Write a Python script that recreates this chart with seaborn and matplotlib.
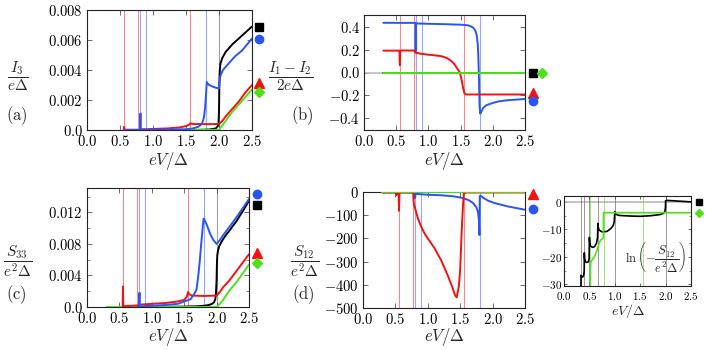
import matplotlib
matplotlib.use("Agg")
import matplotlib.pyplot as plt
import seaborn as sns
from matplotlib.ticker import MultipleLocator

# ---------------- data ----------------
x_ticks = [0.0, 0.5, 1.0, 1.5, 2.0, 2.5]
x_tick_labels = ["0.0", "0.5", "1.0", "1.5", "2.0", "2.5"]

# resonance voltages (thin vertical lines)
red_res = [0.556, 0.778, 1.556]
blue_res = [0.8, 0.9, 1.8]
black_res = [2.0]
inset_black_res = [0.333, 0.4, 0.5, 0.667, 1.0, 2.0]
inset_green_res = [0.519, 0.778, 1.556]

# (a) I3 / eDelta
a_yticks = [0.0, 0.002, 0.004, 0.006, 0.008]
a_ytick_labels = ["0.0", "0.002", "0.004", "0.006", "0.008"]
a_black_x = [0.56, 1.6, 1.85, 1.95, 1.99, 2.0, 2.005, 2.01, 2.02, 2.05, 2.1, 2.2, 2.3, 2.4, 2.5]
a_black_y = [0, 0, 0.00003, 0.0001, 0.0003, 0.0012, 0.003, 0.0038, 0.0044, 0.0048, 0.0052, 0.0057, 0.0061, 0.0065, 0.0069]
a_blue_x = [0.57, 0.8, 0.805, 0.81, 0.815, 0.82, 1.2, 1.5, 1.6, 1.68, 1.74, 1.77, 1.79, 1.805, 1.815, 1.82, 1.85,
            1.9, 1.95, 2.0, 2.005, 2.02, 2.06, 2.14, 2.24, 2.35, 2.5]
a_blue_y = [0, 0, 0.0004, 0.0011, 0.0002, 0.00002, 0.00003, 0.00005, 0.0001, 0.0002, 0.0004, 0.0008, 0.0015, 0.0025,
            0.0032, 0.00315, 0.003, 0.0029, 0.00282, 0.00278, 0.0031, 0.0036, 0.0040, 0.0044, 0.0049, 0.0053, 0.0061]
a_red_x = [0.556, 0.558, 0.565, 0.57, 0.78, 0.8, 1.0, 1.2, 1.4, 1.5, 1.55, 1.57, 1.6, 1.8, 2.0, 2.05, 2.1, 2.2,
           2.3, 2.4, 2.5]
a_red_y = [0, 0.0002, 0.0002, 0.00002, 0.00002, 0.00004, 0.00007, 0.0001, 0.00017, 0.00026, 0.00036, 0.00045,
           0.0004, 0.00039, 0.0004, 0.0006, 0.0009, 0.0014, 0.0019, 0.0025, 0.003]
a_green_x = [0.56, 2.0, 2.05, 2.1, 2.2, 2.3, 2.4, 2.5]
a_green_y = [0, 0, 0.0003, 0.0006, 0.0012, 0.0017, 0.0022, 0.0027]
a_marker_y = [0.0069, 0.0061, 0.00315, 0.00255]   # black, blue, red, green

# (b) (I1 - I2) / 2eDelta
b_yticks = [-0.4, -0.2, 0.0, 0.2, 0.4]
b_ytick_labels = ["-0.4", "-0.2", "0.0", "0.2", "0.4"]
b_black_x = [0.3, 2.5]
b_black_y = [0, 0]
b_blue_x = [0.3, 0.6, 0.8, 0.803, 0.806, 0.81, 1.0, 1.3, 1.5, 1.6, 1.66, 1.7, 1.73, 1.75, 1.765, 1.775, 1.785,
            1.795, 1.805, 1.82, 1.85, 1.9, 2.0, 2.1, 2.25, 2.5]
b_blue_y = [0.441, 0.44, 0.44, 0.19, 0.42, 0.435, 0.432, 0.428, 0.424, 0.42, 0.41, 0.395, 0.37, 0.33, 0.26, 0.15,
            -0.05, -0.3, -0.365, -0.35, -0.315, -0.29, -0.27, -0.255, -0.245, -0.235]
b_red_x = [0.3, 0.55, 0.556, 0.558, 0.562, 0.57, 0.77, 0.78, 0.8, 0.9, 1.0, 1.1, 1.2, 1.28, 1.33, 1.38, 1.42,
           1.46, 1.49, 1.515, 1.54, 1.56, 1.58, 2.0, 2.5]
b_red_y = [0.194, 0.194, 0.07, 0.065, 0.19, 0.195, 0.195, 0.195, 0.175, 0.165, 0.158, 0.152, 0.145, 0.13, 0.112,
           0.09, 0.06, 0.025, 0.0, -0.065, -0.14, -0.185, -0.195, -0.195, -0.195]
b_green_x = [0.3, 2.5]
b_green_y = [0, 0]
b_marker_y = [0.0, 0.0, -0.18, -0.255]   # black, green, red, blue

# (c) S33 / e^2 Delta
c_yticks = [0.0, 0.004, 0.008, 0.012]
c_ytick_labels = ["0.0", "0.004", "0.008", "0.012"]
c_black_x = [0.78, 1.0, 1.5, 1.7, 1.8, 1.88, 1.93, 1.96, 1.98, 1.99, 2.0, 2.005, 2.01, 2.02, 2.04, 2.07, 2.1,
             2.15, 2.2, 2.26, 2.3, 2.36, 2.43, 2.5]
c_black_y = [0, 0.00002, 0.00005, 0.0001, 0.00015, 0.00025, 0.0004, 0.0006, 0.001, 0.0017, 0.0035, 0.0055,
             0.0065, 0.0071, 0.0077, 0.0082, 0.0086, 0.0092, 0.0097, 0.0104, 0.0108, 0.0116, 0.0125, 0.0135]
c_blue_x = [0.78, 0.8, 0.805, 0.81, 0.815, 0.82, 1.0, 1.2, 1.4, 1.5, 1.6, 1.65, 1.69, 1.715, 1.74, 1.76, 1.78,
            1.79, 1.8, 1.805, 1.85, 1.9, 1.95, 2.0, 2.05, 2.1, 2.2, 2.3, 2.4, 2.5]
c_blue_y = [0, 0, 0.0008, 0.0018, 0.0003, 0.0001, 0.00015, 0.00025, 0.0004, 0.0007, 0.001, 0.0016, 0.0022,
            0.0038, 0.0058, 0.0078, 0.0096, 0.0105, 0.0112, 0.0112, 0.0104, 0.0093, 0.0085, 0.008, 0.0085,
            0.0091, 0.0102, 0.0113, 0.0125, 0.0137]
c_red_x = [0.55, 0.556, 0.558, 0.562, 0.57, 0.78, 0.8, 1.0, 1.2, 1.4, 1.5, 1.54, 1.56, 1.58, 1.62, 1.8, 2.0,
           2.05, 2.1, 2.2, 2.3, 2.4, 2.5]
c_red_y = [0, 0.0026, 0.0005, 0.0001, 0.0001, 0.0002, 0.0003, 0.0004, 0.0005, 0.0007, 0.0009, 0.0013, 0.0019,
           0.0016, 0.00145, 0.0014, 0.00145, 0.0019, 0.0025, 0.0034, 0.0045, 0.0056, 0.0067]
c_green_x = [0.3, 2.0, 2.05, 2.1, 2.2, 2.3, 2.4, 2.5]
c_green_y = [0, 0, 0.0004, 0.0009, 0.0021, 0.0031, 0.0042, 0.0054]
c_marker_y = [0.0143, 0.013, 0.0068, 0.0056]   # blue, black, red, green

# (d) S12 / e^2 Delta
d_yticks = [0, -100, -200, -300, -400, -500]
d_ytick_labels = ["0", "-100", "-200", "-300", "-400", "-500"]
d_black_x = [0.3, 2.5]
d_black_y = [0, 0]
d_blue_x = [0.3, 0.79, 0.8, 0.805, 0.81, 0.82, 0.9, 1.0, 1.2, 1.4, 1.52, 1.62, 1.7, 1.75, 1.775, 1.79, 1.797,
            1.802, 1.82, 1.85, 1.93, 2.03, 2.24, 2.5]
d_blue_y = [0, 0, -25, -20, -8, -6, -8, -10, -12, -17, -23, -32, -46, -65, -85, -125, -185, -15, -15, -22, -36,
            -46, -61, -75]
d_red_x = [0.3, 0.51, 0.515, 0.52, 0.53, 0.55, 0.556, 0.56, 0.565, 0.7, 0.775, 0.78, 0.785, 0.8, 0.85, 0.9,
           0.95, 1.0, 1.1, 1.21, 1.31, 1.38, 1.42, 1.446, 1.48, 1.5, 1.52, 1.54, 1.556, 1.6, 2.5]
d_red_y = [0, 0, -12, -3, 0, -5, -80, -20, 0, 0, 0, -35, -50, -65, -115, -150, -178, -200, -240, -297, -362,
           -413, -446, -456, -406, -333, -188, -72, -3, 0, 0]
d_green_x = [0.3, 2.5]
d_green_y = [0, 0]
d_marker_y = [-7, -72]   # red, blue

# inset: ln(-S12 / e^2 Delta)
in_yticks = [0, -10, -20, -30]
in_ytick_labels = ["0", "-10", "-20", "-30"]
in_black_x = [0.333, 0.336, 0.35, 0.37, 0.39, 0.398, 0.4, 0.405, 0.42, 0.45, 0.48, 0.495, 0.5, 0.505, 0.52,
              0.56, 0.6, 0.64, 0.66, 0.667, 0.672, 0.69, 0.75, 0.85, 0.93, 0.97, 0.99, 1.0, 1.01, 1.05, 1.1,
              1.3, 1.5, 1.7, 1.88, 1.95, 1.985, 1.997, 2.0, 2.02, 2.2, 2.5]
in_black_y = [-31, -26.7, -27.3, -27.3, -26.5, -25, -18.5, -20.5, -21.8, -22.0, -21.8, -20.5, -12.9, -14.5,
              -16, -16.5, -16.3, -15, -13, -7.8, -9, -10.2, -10.9, -10.7, -9.5, -8.5, -7, -3.5, -4.2, -4.7,
              -4.9, -5.1, -5.2, -5.0, -4.6, -4.2, -3.5, -2, 0.5, 0.6, 0.4, 0.05]
in_green_x = [0.519, 0.521, 0.53, 0.59, 0.64, 0.69, 0.72, 0.757, 0.776, 0.778, 0.79, 2.5]
in_green_y = [-31, -24, -21.8, -20.2, -18.2, -15.1, -13.9, -13.3, -12.8, -3.9, -3.9, -3.9]
in_marker_y = [0.05, -3.9]   # black, green

# ---------------- style ----------------
W, H = 706, 350
sns.set_style("ticks")
plt.rcParams.update({
    "font.family": ["DejaVu Serif"],
    "mathtext.fontset": "cm",
    "axes.linewidth": 0.8,
    "axes.edgecolor": "#222222",
})

BLACK = "#000000"
BLUE = "#2a55f5"
RED = "#f21212"
GREEN = "#4fe01c"

fig = plt.figure(figsize=(W / 100, H / 100), dpi=100)


def add_axes(x0, y0, x1, y1):
    return fig.add_axes([x0 / W, 1 - y1 / H, (x1 - x0) / W, (y1 - y0) / H])


def px(x, y):
    return x / W, 1 - y / H


def curve(ax, x, y, color, lw=1.4, z=3):
    sns.lineplot(x=x, y=y, ax=ax, color=color, lw=lw, estimator=None, sort=False,
                 legend=False, zorder=z)


def vlines(ax, xs, color, alpha=0.5, lw=0.8):
    for v in xs:
        ax.axvline(v, color=color, lw=lw, alpha=alpha, zorder=1)


def setup(ax, ylim, yticks, ylabels, fs=10.5, minor_y=None, pad=3.0, xpad=None):
    ax.set_xlim(0, 2.5)
    ax.set_ylim(*ylim)
    ax.set_xticks(x_ticks)
    ax.set_xticklabels([f"${s}$" for s in x_tick_labels], fontsize=fs)
    ax.set_yticks(yticks)
    ax.set_yticklabels([f"${s}$" for s in ylabels], fontsize=fs)
    if minor_y:
        ax.yaxis.set_minor_locator(MultipleLocator(minor_y))
    ax.tick_params(which="both", direction="in", top=True, right=True, colors="#555555",
                   labelcolor="black", pad=pad)
    if xpad is not None:
        ax.tick_params(axis="x", pad=xpad)
    ax.tick_params(which="major", length=3.5, width=0.6)
    ax.tick_params(which="minor", length=2, width=0.5)
    ax.set_xlabel("")
    ax.set_ylabel("")


def markers(ax, xs, ys, styles):
    for x, y, (m, c, ms) in zip(xs, ys, styles):
        ax.plot([x], [y], marker=m, color=c, ms=ms, ls="none", clip_on=False, zorder=5)


SQ = ("s", BLACK, 5.5)
CI = ("o", BLUE, 6.0)
TR = ("^", RED, 6.5)
DI = ("D", GREEN, 4.8)

# ---------------- (a) ----------------
ax_a = add_axes(87, 10, 252, 130)
vlines(ax_a, red_res, RED)
vlines(ax_a, blue_res, BLUE)
vlines(ax_a, black_res, "#444444")
curve(ax_a, a_black_x, a_black_y, BLACK)
curve(ax_a, a_green_x, a_green_y, GREEN)
curve(ax_a, a_red_x, a_red_y, RED)
curve(ax_a, a_blue_x, a_blue_y, BLUE)
setup(ax_a, (0, 0.008), a_yticks, a_ytick_labels)
markers(ax_a, [2.6] * 4, a_marker_y, [SQ, CI, TR, DI])

# ---------------- (b) ----------------
ax_b = add_axes(364, 15, 525, 130)
ax_b.axhline(0, color="#bbbbbb", lw=1.2, zorder=1)
vlines(ax_b, red_res, RED)
vlines(ax_b, blue_res, BLUE)
curve(ax_b, b_black_x, b_black_y, BLACK)
curve(ax_b, b_blue_x, b_blue_y, BLUE)
curve(ax_b, b_red_x, b_red_y, RED)
curve(ax_b, b_green_x, b_green_y, GREEN)
setup(ax_b, (-0.51, 0.51), b_yticks, b_ytick_labels)
markers(ax_b, [2.62, 2.76, 2.62, 2.62], b_marker_y, [SQ, DI, TR, CI])

# ---------------- (c) ----------------
ax_c = add_axes(87, 188, 249, 307)
vlines(ax_c, red_res, RED)
vlines(ax_c, blue_res, BLUE)
vlines(ax_c, black_res, "#444444")
curve(ax_c, c_black_x, c_black_y, BLACK)
curve(ax_c, c_green_x, c_green_y, GREEN)
curve(ax_c, c_red_x, c_red_y, RED)
curve(ax_c, c_blue_x, c_blue_y, BLUE)
setup(ax_c, (0, 0.0151), c_yticks, c_ytick_labels, minor_y=0.002)
markers(ax_c, [2.63] * 4, c_marker_y, [CI, SQ, TR, DI])

# ---------------- (d) ----------------
ax_d = add_axes(363, 192, 525, 308)
vlines(ax_d, red_res, RED)
vlines(ax_d, blue_res, BLUE)
curve(ax_d, d_black_x, d_black_y, BLACK)
curve(ax_d, d_blue_x, d_blue_y, BLUE)
curve(ax_d, d_red_x, d_red_y, RED)
curve(ax_d, d_green_x, d_green_y, GREEN)
setup(ax_d, (-502, 2), d_yticks, d_ytick_labels)
markers(ax_d, [2.63, 2.63], d_marker_y, [TR, CI])

# ---------------- inset ----------------
ax_i = add_axes(564, 196, 691, 286)
ax_i.axhline(0, color="#bbbbbb", lw=1.2, zorder=1)
vlines(ax_i, inset_black_res, "#555555", alpha=0.6, lw=0.7)
vlines(ax_i, inset_green_res, GREEN, alpha=0.6, lw=0.7)
curve(ax_i, in_black_x, in_black_y, BLACK, lw=1.2)
curve(ax_i, in_green_x, in_green_y, GREEN, lw=1.2)
setup(ax_i, (-30.6, 2.2), in_yticks, in_ytick_labels, fs=8, minor_y=5, pad=1.5, xpad=3.0)
ax_i.tick_params(which="major", length=2.5)
ax_i.tick_params(which="minor", length=1.5)
markers(ax_i, [2.66, 2.66], in_marker_y, [("s", BLACK, 5.0), ("D", GREEN, 4.5)])
ax_i.text(0.72, 0.32, r"$\ln\left(-\dfrac{S_{12}}{e^2\Delta}\right)$", transform=ax_i.transAxes,
          ha="center", va="center", fontsize=9)

# ---------------- labels ----------------
FS_LAB = 11
fig.text(*px(18, 76), r"$\dfrac{I_3}{e\Delta}$", ha="center", va="center", fontsize=FS_LAB)
fig.text(*px(17, 116), r"$\mathrm{(a)}$", ha="center", va="center", fontsize=12)
fig.text(*px(291, 76), r"$\dfrac{I_1-I_2}{2e\Delta}$", ha="center", va="center", fontsize=FS_LAB)
fig.text(*px(302, 116), r"$\mathrm{(b)}$", ha="center", va="center", fontsize=12)
fig.text(*px(18, 261), r"$\dfrac{S_{33}}{e^2\Delta}$", ha="center", va="center", fontsize=FS_LAB)
fig.text(*px(16, 295), r"$\mathrm{(c)}$", ha="center", va="center", fontsize=12)
fig.text(*px(305, 261), r"$\dfrac{S_{12}}{e^2\Delta}$", ha="center", va="center", fontsize=FS_LAB)
fig.text(*px(303, 295), r"$\mathrm{(d)}$", ha="center", va="center", fontsize=12)

for (xc, yc, fs) in [(168, 161, 12), (444, 161, 12), (168, 337, 12), (444, 337, 12), (628, 311, 10)]:
    fig.text(*px(xc, yc), r"$eV/\Delta$", ha="center", va="center", fontsize=fs)

fig.savefig("out.png", dpi=100)
